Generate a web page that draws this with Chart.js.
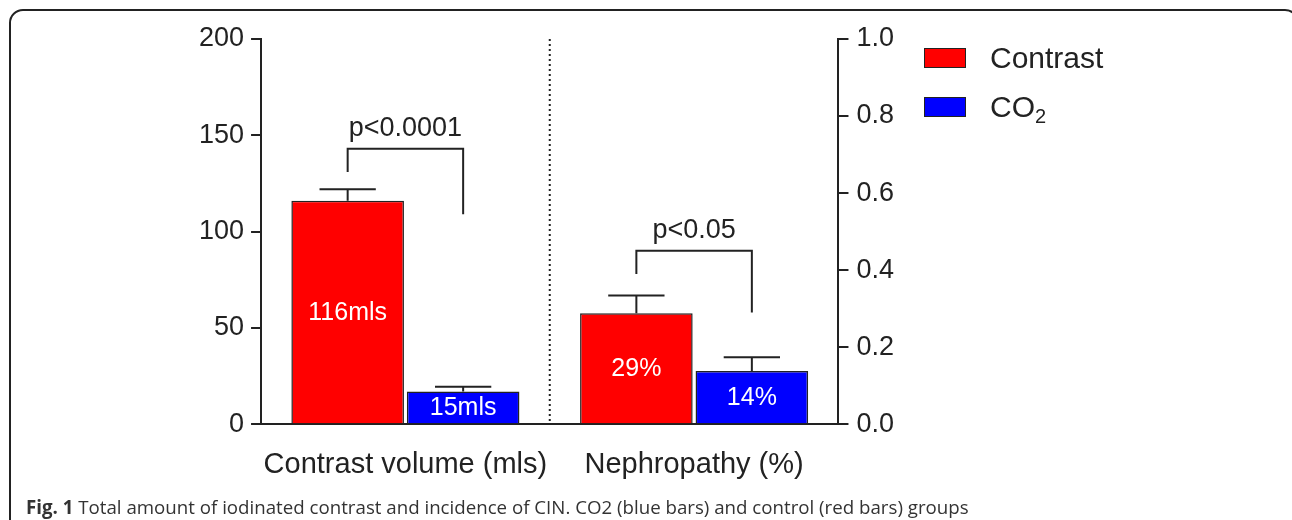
<!DOCTYPE html>
<html>
<head>
<meta charset="utf-8">
<script src="https://cdn.jsdelivr.net/npm/chart.js@4"></script>
<style>
    body { margin: 0; background: #fff; }
    #wrap { position: relative; width: 1292px; height: 520px; overflow: hidden; }
    #frame {
        position: absolute; left: 9px; top: 9px; width: 1290px; height: 560px;
        border: 2px solid #222; border-radius: 14px; box-sizing: border-box;
    }
    #chart { position: absolute; left: 0; top: 0; }
    #legend {
        position: absolute; left: 924px; top: 40px;
        font-family: "Liberation Sans", Arial, sans-serif; font-size: 30px; color: #222;
    }
    #legend .item { display: flex; align-items: center; height: 35px; margin-bottom: 14px; }
    #legend .box { width: 40px; height: 18px; border: 1.5px solid #222; margin-right: 24px; }
    #legend sub { font-size: 20px; vertical-align: -6px; line-height: 0; }
    #caption {
        position: absolute; left: 26px; top: 494px;
        font-family: 'Open Sans', sans-serif; font-size: 18.7px; color: #333; white-space: nowrap;
    }
</style>
</head>
<body>
<div id="wrap">
    <div id="frame"></div>
    <canvas id="chart" width="1292" height="511"></canvas>
    <div id="legend"></div>
    <div id="caption"><b>Fig. 1</b> Total amount of iodinated contrast and incidence of CIN. CO2 (blue bars) and control (red bars) groups</div>
</div>
<script>
// categories
const categories = ['Contrast volume (mls)', 'Nephropathy (%)'];
const seriesNames = ['Contrast', 'CO<sub>2</sub>'];

// left axis: contrast volume (mls)
const volumeMean = [116, 17];
const volumeErr = [6, 2.5];
const volumeText = ['116mls', '15mls'];

// right axis: nephropathy (fraction)
const nephMean = [0.288, 0.138];
const nephErr = [0.046, 0.036];
const nephText = ['29%', '14%'];

// tick values
const leftTicks = [0, 50, 100, 150, 200];
const rightTicks = [0, 0.2, 0.4, 0.6, 0.8, 1.0];

// significance brackets (in axis units): [volume, nephropathy]
const pText = ['p<0.0001', 'p<0.05'];
const bracketTop = [143, 0.45];
const bracketLeftEnd = [131, 0.39];
const bracketRightEnd = [109, 0.29];

const RED = '#ff0000';
const BLUE = '#0000ff';
const INK = '#222';
const seriesColors = [RED, BLUE];

Chart.defaults.font.family = '"Liberation Sans", Arial, sans-serif';
Chart.defaults.color = INK;

function barSet(label, value, color, axis, catIndex) {
    return {
        label: label,
        data: categories.map((c, i) => i === catIndex ? value : null),
        backgroundColor: color,
        borderColor: INK,
        borderWidth: 1.5,
        yAxisID: axis,
        skipNull: true,
        categoryPercentage: 0.8,
        barPercentage: 0.975
    };
}

const datasets = [
    barSet(seriesNames[0], volumeMean[0], RED, 'y', 0),
    barSet(seriesNames[1], volumeMean[1], BLUE, 'y', 0),
    barSet(seriesNames[0], nephMean[0], RED, 'y1', 1),
    barSet(seriesNames[1], nephMean[1], BLUE, 'y1', 1)
];
const errs = [volumeErr[0], volumeErr[1], nephErr[0], nephErr[1]];
const inside = [volumeText[0], volumeText[1], nephText[0], nephText[1]];

// legend (html so CO2 can take a real subscript)
const legendEl = document.getElementById('legend');
seriesNames.forEach((name, i) => {
    const row = document.createElement('div');
    row.className = 'item';
    row.innerHTML = `<span class="box" style="background:${seriesColors[i]}"></span><span>${name}</span>`;
    legendEl.appendChild(row);
});

// error bars, labels inside bars, divider and brackets
const extras = {
    id: 'extras',
    afterDatasetsDraw(chart) {
        const ctx = chart.ctx;
        const area = chart.chartArea;
        ctx.save();
        ctx.strokeStyle = INK;
        ctx.lineWidth = 2;

        const centers = [];
        chart.data.datasets.forEach((ds, di) => {
            const meta = chart.getDatasetMeta(di);
            const scale = chart.scales[ds.yAxisID];
            ds.data.forEach((v, i) => {
                if (v === null) return;
                const bar = meta.data[i];
                const top = scale.getPixelForValue(v + errs[di]);
                const cap = bar.width / 4;
                ctx.beginPath();
                ctx.moveTo(bar.x, bar.y);
                ctx.lineTo(bar.x, top);
                ctx.moveTo(bar.x - cap, top);
                ctx.lineTo(bar.x + cap, top);
                ctx.stroke();

                ctx.fillStyle = '#fff';
                ctx.font = '25px "Liberation Sans", Arial, sans-serif';
                ctx.textAlign = 'center';
                ctx.textBaseline = 'middle';
                ctx.fillText(inside[di], bar.x, (bar.y + bar.base) / 2 + 1);
                centers[di] = bar.x;
            });
        });

        // dotted divider between the two panels
        const xs = chart.scales.x;
        const mid = (xs.getPixelForTick(0) + xs.getPixelForTick(1)) / 2;
        ctx.setLineDash([2, 3]);
        ctx.beginPath();
        ctx.moveTo(mid, area.top);
        ctx.lineTo(mid, area.bottom);
        ctx.stroke();
        ctx.setLineDash([]);

        // brackets
        ['y', 'y1'].forEach((a, k) => {
            const s = chart.scales[a];
            const xl = centers[k * 2];
            const xr = centers[k * 2 + 1];
            const yt = s.getPixelForValue(bracketTop[k]);
            ctx.beginPath();
            ctx.moveTo(xl, s.getPixelForValue(bracketLeftEnd[k]));
            ctx.lineTo(xl, yt);
            ctx.lineTo(xr, yt);
            ctx.lineTo(xr, s.getPixelForValue(bracketRightEnd[k]));
            ctx.stroke();
            ctx.fillStyle = INK;
            ctx.font = '27px "Liberation Sans", Arial, sans-serif';
            ctx.textAlign = 'center';
            ctx.textBaseline = 'alphabetic';
            ctx.fillText(pText[k], (xl + xr) / 2, yt - 13);
        });
        ctx.restore();
    }
};

new Chart(document.getElementById('chart'), {
    type: 'bar',
    data: { labels: categories, datasets: datasets },
    plugins: [extras],
    options: {
        responsive: false,
        animation: false,
        layout: { padding: { left: 192, right: 390, top: 39, bottom: 6 } },
        plugins: {
            tooltip: { enabled: false },
            legend: { display: false }
        },
        scales: {
            x: {
                grid: { display: false, drawTicks: false },
                border: { display: true, color: INK, width: 2 },
                ticks: { padding: 23, font: { size: 29 }, color: INK, maxRotation: 0, minRotation: 0, autoSkip: false }
            },
            y: {
                position: 'left',
                min: 0, max: 200,
                afterBuildTicks: s => { s.ticks = leftTicks.map(v => ({ value: v })); },
                grid: { drawOnChartArea: false, tickLength: 10, color: INK, lineWidth: 2 },
                border: { color: INK, width: 2 },
                ticks: { padding: 7, font: { size: 27 }, color: INK }
            },
            y1: {
                position: 'right',
                min: 0, max: 1,
                afterBuildTicks: s => { s.ticks = rightTicks.map(v => ({ value: v })); },
                grid: { drawOnChartArea: false, tickLength: 10, color: INK, lineWidth: 2 },
                border: { color: INK, width: 2 },
                ticks: { padding: 8, font: { size: 27 }, color: INK, callback: v => v.toFixed(1) }
            }
        }
    }
});
</script>
</body>
</html>
